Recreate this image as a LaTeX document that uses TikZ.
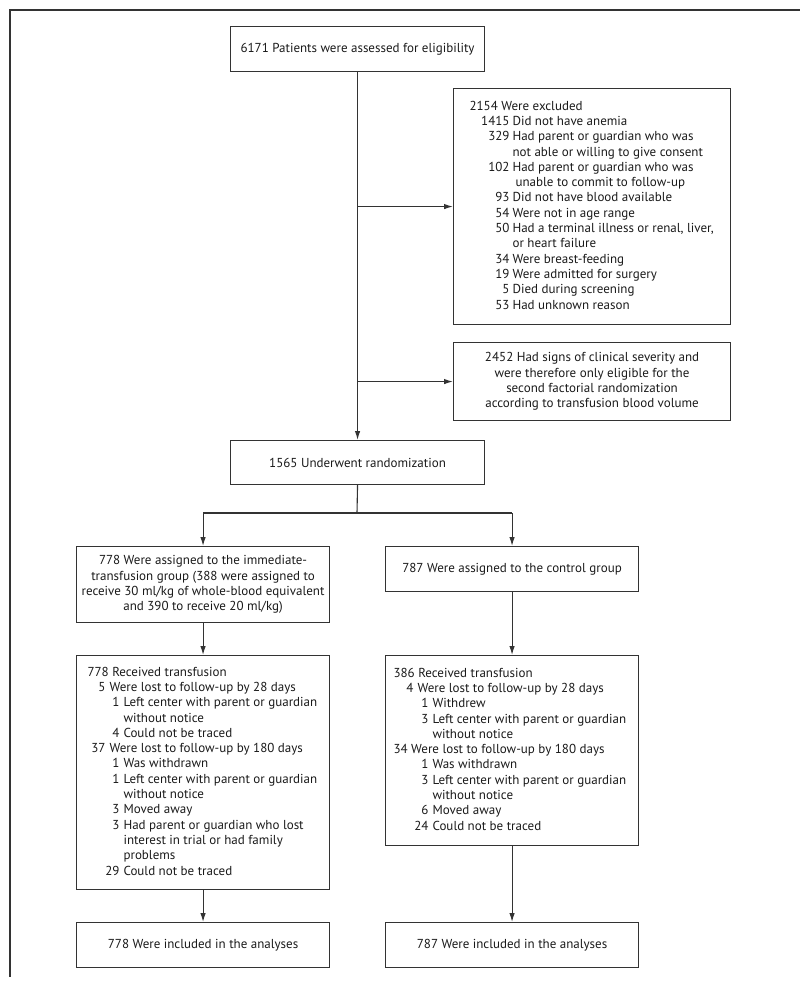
\documentclass[tikz,border=0pt]{standalone}
\usepackage{fontspec}
\setmainfont{PT Sans}
\usetikzlibrary{arrows.meta}
\definecolor{linec}{HTML}{333333}
\definecolor{txtc}{HTML}{1A1A1A}
\newcommand{\fs}{\fontsize{13}{15.3}\selectfont}
\newcommand{\rowitem}[4]{\makebox[#2pt][l]{\makebox[#1pt][r]{#3}}#4}
\newcommand{\leftlines}[2]{\makebox[#1pt][l]{\begin{tabular}{@{}l@{}}#2\end{tabular}}}
\begin{document}
\begin{tikzpicture}[x=1pt,y=-1pt,
  box/.style={draw=linec, line width=1.1pt, inner sep=0pt, anchor=north west, font=\fs, text=txtc},
  conn/.style={draw=linec, line width=1.1pt},
  arr/.style={conn, -{Latex[length=9pt,width=5.5pt]}},
  frame/.style={draw=linec, line width=1.7pt}]
\useasboundingbox (0,0) rectangle (800,986);
\draw[frame] (800,10) -- (10,10) -- (10,977);

\node[box, minimum width=254pt, minimum height=45pt] (b1) at (230,26) {6171 Patients were assessed for eligibility};

\node[box, minimum width=277pt, minimum height=236pt] (excl) at (453,88) {\leftlines{245}{%
2154 Were excluded\\
\rowitem{40}{43}{1415}{Did not have anemia}\\
\rowitem{40}{43}{329}{Had parent or guardian who was}\\
\rowitem{40}{43}{}{not able or willing to give consent}\\
\rowitem{40}{43}{102}{Had parent or guardian who was}\\
\rowitem{40}{43}{}{\hspace*{3pt}unable to commit to follow-up}\\
\rowitem{40}{43}{93}{Did not have blood available}\\
\rowitem{40}{43}{54}{Were not in age range}\\
\rowitem{40}{43}{50}{Had a terminal illness or renal, liver,}\\
\rowitem{40}{43}{}{or heart failure}\\
\rowitem{40}{43}{34}{Were breast-feeding}\\
\rowitem{40}{43}{19}{Were admitted for surgery}\\
\rowitem{40}{43}{5}{Died during screening}\\
\rowitem{40}{43}{53}{Had unknown reason}}};

\node[box, minimum width=277pt, minimum height=78pt, align=center] (sev) at (453,342) {2452 Had signs of clinical severity and\\were therefore only eligible for the\\second factorial randomization\\according to transfusion blood volume};

\node[box, minimum width=254pt, minimum height=44pt] (rand) at (230,440) {1565 Underwent randomization};

\node[box, minimum width=253pt, minimum height=76pt, align=center] (asg1) at (76,546) {778 Were assigned to the immediate-\\transfusion group (388 were assigned to\\receive 30 ml/kg of whole-blood equivalent\\and 390 to receive 20 ml/kg)};
\node[box, minimum width=253pt, minimum height=45pt] (asg2) at (385,546) {787 Were assigned to the control group};

\node[box, minimum width=253pt, minimum height=234pt] (rec1) at (76,655) {\leftlines{231}{%
778 Received transfusion\\
\rowitem{18}{22}{5}{Were lost to follow-up by 28 days}\\
\rowitem{32}{36}{1}{Left center with parent or guardian}\\
\rowitem{32}{36}{}{without notice}\\
\rowitem{32}{36}{4}{Could not be traced}\\
\rowitem{18}{22}{37}{Were lost to follow-up by 180 days}\\
\rowitem{32}{36}{1}{Was withdrawn}\\
\rowitem{32}{36}{1}{Left center with parent or guardian}\\
\rowitem{32}{36}{}{without notice}\\
\rowitem{32}{36}{3}{Moved away}\\
\rowitem{32}{36}{3}{Had parent or guardian who lost}\\
\rowitem{32}{36}{}{interest in trial or had family}\\
\rowitem{32}{36}{}{problems}\\
\rowitem{32}{36}{29}{Could not be traced}}};

\node[box, minimum width=253pt, minimum height=190pt] (rec2) at (385,655) {\leftlines{237}{%
386 Received transfusion\\
\rowitem{20}{24}{4}{Were lost to follow-up by 28 days}\\
\rowitem{35}{39}{1}{Withdrew}\\
\rowitem{35}{39}{3}{Left center with parent or guardian}\\
\rowitem{35}{39}{}{without notice}\\
34 Were lost to follow-up by 180 days\\
\rowitem{35}{39}{1}{Was withdrawn}\\
\rowitem{35}{39}{3}{Left center with parent or guardian}\\
\rowitem{35}{39}{}{without notice}\\
\rowitem{35}{39}{6}{Moved away}\\
\rowitem{35}{39}{24}{Could not be traced}}};

\node[box, minimum width=253pt, minimum height=45pt] (inc1) at (76,922) {778 Were included in the analyses};
\node[box, minimum width=253pt, minimum height=45pt] (inc2) at (385,922) {787 Were included in the analyses};

\draw[arr] (b1.south) -- (rand.north);
\coordinate (e1) at (b1.south |- excl.west);
\coordinate (e2) at (b1.south |- sev.west);
\draw[arr] (e1) -- (excl.west);
\draw[arr] (e2) -- (sev.west);
\coordinate (j) at (357,513);
\coordinate (jl) at (asg1.north |- j);
\coordinate (jr) at (asg2.north |- j);
\draw[conn] (rand.south) -- (j);
\draw[conn] (jl) -- (jr);
\draw[arr] (jl) -- (asg1.north);
\draw[arr] (jr) -- (asg2.north);
\draw[arr] (asg1.south) -- (rec1.north);
\draw[arr] (asg2.south) -- (rec2.north);
\draw[arr] (rec1.south) -- (inc1.north);
\draw[arr] (rec2.south) -- (inc2.north);
\end{tikzpicture}
\end{document}
